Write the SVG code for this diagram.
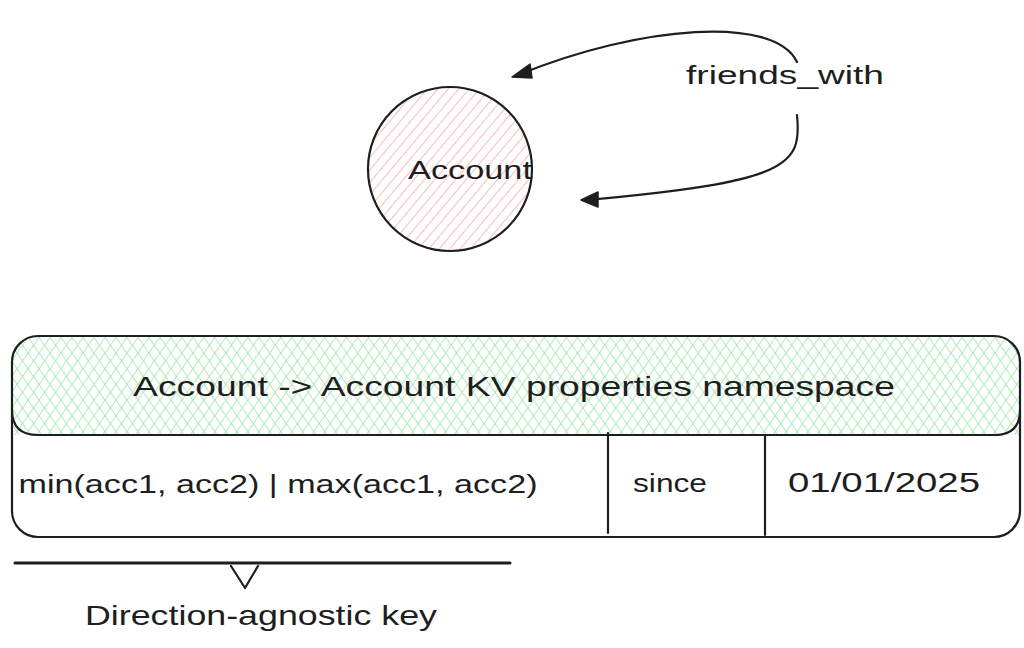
<svg xmlns="http://www.w3.org/2000/svg" width="1024" height="648" viewBox="0 0 1024 648">
  <style>
    .t { font-family: "Liberation Sans", "DejaVu Sans", sans-serif; fill: #1e1e1e; }
    .stroke { fill: none; stroke: #1e1e1e; stroke-width: 2.2; stroke-linecap: round; stroke-linejoin: round; }
  </style>
  <defs>
    <pattern id="pinkHatch" patternUnits="userSpaceOnUse" width="8" height="8" patternTransform="rotate(40)">
      <line x1="0" y1="0" x2="0" y2="8" stroke="#ffb3b3" stroke-width="1.8"/>
    </pattern>
    <pattern id="greenHatchA" patternUnits="userSpaceOnUse" width="9" height="9" patternTransform="rotate(-35)">
      <line x1="0" y1="0" x2="0" y2="9" stroke="#9ee6a8" stroke-width="1.6"/>
    </pattern>
    <pattern id="greenHatchB" patternUnits="userSpaceOnUse" width="9" height="9" patternTransform="rotate(35)">
      <line x1="0" y1="0" x2="0" y2="9" stroke="#9ee6a8" stroke-width="1.6"/>
    </pattern>
  </defs>
  <rect width="1024" height="648" fill="#ffffff"/>

  <g id="account-node">
    <circle cx="450" cy="169" r="82" fill="url(#pinkHatch)"/>
    <circle cx="450" cy="169" r="82" class="stroke"/>
    <text class="t" x="470" y="179" font-size="26" text-anchor="middle" textLength="124" lengthAdjust="spacingAndGlyphs">Account</text>
  </g>

  <g id="connectors">
    <path class="stroke" d="M 797 62 C 775 15, 640 25, 518 75"/>
    <path class="stroke" d="M 797 115 C 802 165, 790 182, 586 200"/>
    <path d="M 512 77 L 530 64 L 532 78 Z" fill="#1e1e1e" stroke="#1e1e1e" stroke-width="1.5" stroke-linejoin="round"/>
    <path d="M 581 200 L 598 192 L 598 207 Z" fill="#1e1e1e" stroke="#1e1e1e" stroke-width="1.5" stroke-linejoin="round"/>
    <text class="t" x="785" y="84" font-size="26" text-anchor="middle" textLength="198" lengthAdjust="spacingAndGlyphs">friends_with</text>
  </g>

  <g id="namespace-table">
    <rect x="12" y="336" width="1008" height="201" rx="26" fill="#ffffff"/>
    <path d="M 12 435 L 12 361 Q 12 336 38 336 L 994 336 Q 1020 336 1020 361 L 1020 435 Z" fill="url(#greenHatchA)"/>
    <path d="M 12 435 L 12 361 Q 12 336 38 336 L 994 336 Q 1020 336 1020 361 L 1020 435 Z" fill="url(#greenHatchB)"/>
    <rect x="12" y="336" width="1008" height="201" rx="26" class="stroke"/>
    <path class="stroke" d="M 12 410 Q 12 435 38 435 L 994 435 Q 1020 435 1020 410"/>
    <line class="stroke" x1="608" y1="433" x2="608" y2="533"/>
    <line class="stroke" x1="765" y1="436" x2="765" y2="535"/>
    <text class="t" x="514" y="396" font-size="28" text-anchor="middle" textLength="762" lengthAdjust="spacingAndGlyphs">Account -&gt; Account KV properties namespace</text>
    <text class="t" x="278" y="493" font-size="26" text-anchor="middle" textLength="519" lengthAdjust="spacingAndGlyphs">min(acc1, acc2) | max(acc1, acc2)</text>
    <text class="t" x="670" y="492" font-size="26" text-anchor="middle" textLength="74" lengthAdjust="spacingAndGlyphs">since</text>
    <text class="t" x="884" y="492" font-size="28" text-anchor="middle" textLength="192" lengthAdjust="spacingAndGlyphs">01/01/2025</text>
  </g>

  <g id="key-annotation">
    <line x1="15" y1="563" x2="510" y2="563" stroke="#1e1e1e" stroke-width="3" stroke-linecap="round"/>
    <path class="stroke" d="M 231 566 L 245 588 L 258 566"/>
    <text class="t" x="261" y="625" font-size="28" text-anchor="middle" textLength="352" lengthAdjust="spacingAndGlyphs">Direction-agnostic key</text>
  </g>
</svg>
